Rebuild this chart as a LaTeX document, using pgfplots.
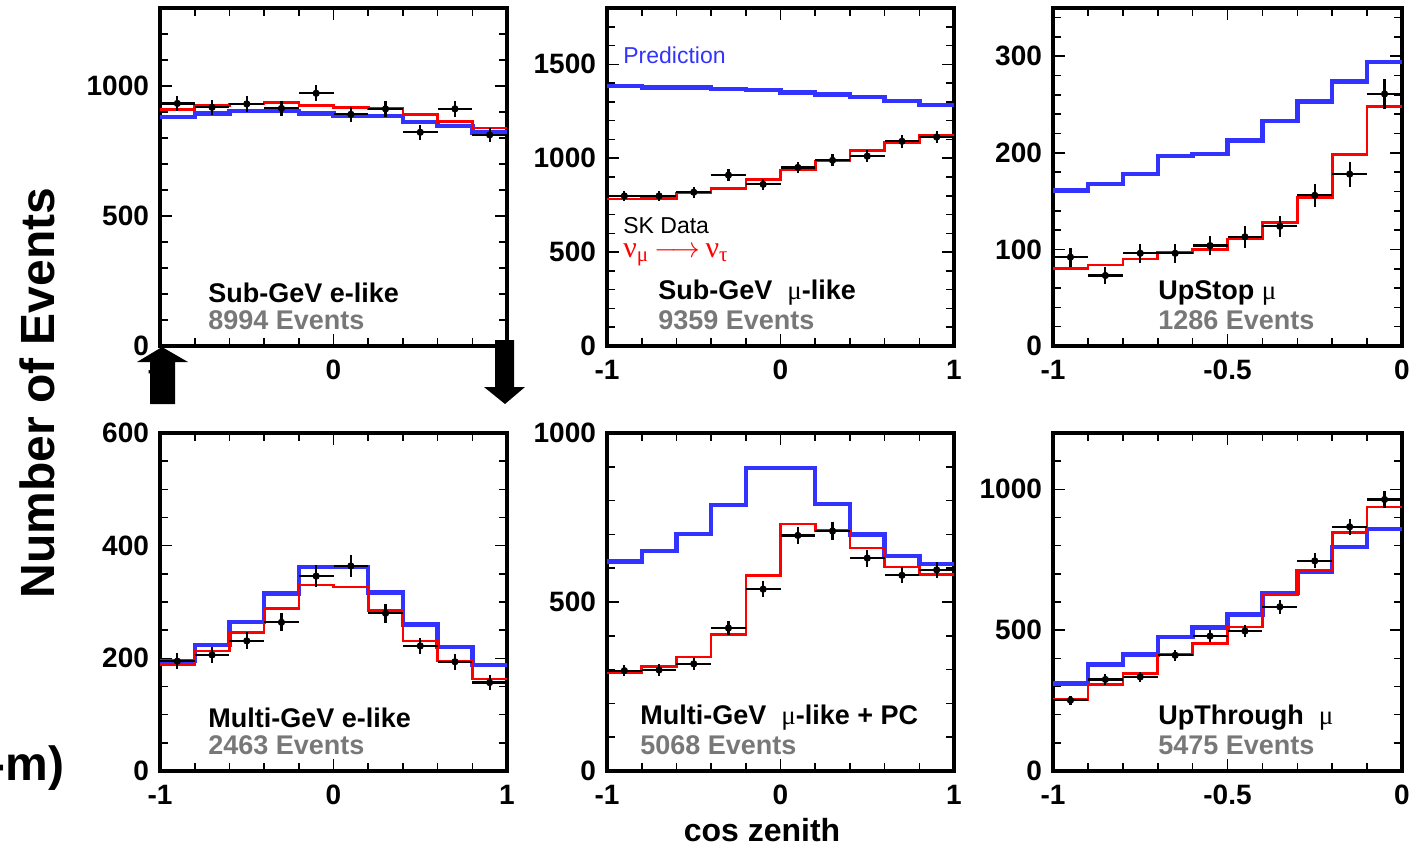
\documentclass[border=0pt]{standalone}
\usepackage{fontspec}
\setmainfont{Liberation Sans}
\newfontfamily\grk{Liberation Serif}
\usepackage{pgfplots}
\pgfplotsset{compat=1.18}
\definecolor{cPred}{RGB}{51,51,255}
\definecolor{cOsc}{RGB}{255,0,0}
\definecolor{cGrey}{RGB}{120,120,120}
\pgfplotsset{
  skpanel/.style={
    scale only axis, anchor=south west,
    axis line style={line width=1.6pt},
    tick style={line width=0.8pt, black},
    major tick length=6pt, minor tick length=4pt,
    tick align=inside,
    tick label style={font=\fontsize{14}{16}\selectfont\bfseries},
    xticklabel style={yshift=-3.5pt},
    yticklabel style={xshift=-2pt},
    /pgf/number format/assume math mode=true,
    /pgf/number format/1000 sep={},
  },
  pred/.style={cPred, line width=2.2pt, const plot, mark=none},
  osc/.style={cOsc, line width=1.3pt, const plot, mark=none},
  skdata/.style={black, only marks, mark=*, mark size=1.6pt,
    error bars/.cd, x dir=both, x explicit, y dir=both, y explicit,
    error mark=none, error bar style={line width=1.1pt}},
}
\newcommand{\ttl}{\fontsize{13.5}{15}\selectfont\bfseries}
\newcommand{\lgd}{\fontsize{11.5}{13}\selectfont}
\newcommand{\mum}{{\grk\mdseries μ}}

\begin{document}
\begin{tikzpicture}
% ---- top row ----
\begin{axis}[skpanel, at={(80pt,-173pt)}, width=173.5pt, height=169pt,
  xmin=-1, xmax=1, ymin=0, ymax=1300,
  xtick={-1,0,1}, minor xtick={-0.8,-0.6,-0.4,-0.2,0.2,0.4,0.6,0.8},
  ytick={0,500,1000}, minor ytick={100,200,300,400,600,700,800,900,1100,1200}]
\addplot[pred] coordinates {(-1,880) (-0.8,895) (-0.6,904) (-0.4,905) (-0.2,895) (0,884) (0.2,884) (0.4,862) (0.6,847) (0.8,821) (1,821)};
\addplot[osc] coordinates {(-1,910) (-0.8,926) (-0.6,931) (-0.4,936) (-0.2,926) (0,918) (0.2,914) (0.4,891) (0.6,863) (0.8,838) (1,838)};
\addplot[skdata] coordinates {(-0.9,933) +- (0.1,30) (-0.7,918) +- (0.1,30) (-0.5,931) +- (0.1,30) (-0.3,914) +- (0.1,30) (-0.1,972) +- (0.1,31) (0.1,891) +- (0.1,30) (0.3,912) +- (0.1,30) (0.5,822) +- (0.1,29) (0.7,912) +- (0.1,30) (0.9,812) +- (0.1,28)};
\end{axis}

\begin{axis}[skpanel, at={(303.5pt,-173pt)}, width=173.5pt, height=169pt,
  xmin=-1, xmax=1, ymin=0, ymax=1800,
  xtick={-1,0,1}, minor xtick={-0.8,-0.6,-0.4,-0.2,0.2,0.4,0.6,0.8},
  ytick={0,500,1000,1500}, minor ytick={100,200,300,400,600,700,800,900,1100,1200,1300,1400,1600,1700}]
\addplot[pred] coordinates {(-1,1386) (-0.8,1377) (-0.6,1377) (-0.4,1370) (-0.2,1364) (0,1349) (0.2,1340) (0.4,1326) (0.6,1306) (0.8,1283) (1,1283)};
\addplot[osc] coordinates {(-1,782) (-0.8,785) (-0.6,815) (-0.4,840) (-0.2,887) (0,937) (0.2,986) (0.4,1042) (0.6,1083) (0.8,1120) (1,1120)};
\addplot[skdata] coordinates {(-0.9,799) +- (0.1,28) (-0.7,799) +- (0.1,28) (-0.5,819) +- (0.1,29) (-0.3,910) +- (0.1,30) (-0.1,861) +- (0.1,29) (0.1,951) +- (0.1,31) (0.3,989) +- (0.1,31) (0.5,1011) +- (0.1,32) (0.7,1090) +- (0.1,33) (0.9,1113) +- (0.1,33)};
\end{axis}

\begin{axis}[skpanel, at={(526.5pt,-173pt)}, width=174.5pt, height=169pt,
  xmin=-1, xmax=0, ymin=0, ymax=350,
  xtick={-1,-0.5,0}, minor xtick={-0.9,-0.8,-0.7,-0.6,-0.4,-0.3,-0.2,-0.1},
  ytick={0,100,200,300}, minor ytick={20,40,60,80,120,140,160,180,220,240,260,280,320,340}]
\addplot[pred] coordinates {(-1,161) (-0.9,168) (-0.8,178) (-0.7,197) (-0.6,199) (-0.5,213) (-0.4,233) (-0.3,253) (-0.2,274) (-0.1,294) (0,294)};
\addplot[osc] coordinates {(-1,80) (-0.9,84) (-0.8,90) (-0.7,97) (-0.6,100) (-0.5,111) (-0.4,128) (-0.3,154) (-0.2,198) (-0.1,248) (0,248)};
\addplot[skdata] coordinates {(-0.95,92) +- (0.05,10) (-0.85,73) +- (0.05,9) (-0.75,96) +- (0.05,10) (-0.65,96) +- (0.05,10) (-0.55,104) +- (0.05,10) (-0.45,113) +- (0.05,11) (-0.35,124) +- (0.05,11) (-0.25,156) +- (0.05,12) (-0.15,178) +- (0.05,13) (-0.05,261) +- (0.05,16)};
\end{axis}

% ---- bottom row ----
\begin{axis}[skpanel, at={(80pt,-385.5pt)}, width=173.5pt, height=169pt,
  xmin=-1, xmax=1, ymin=0, ymax=600,
  xtick={-1,0,1}, minor xtick={-0.8,-0.6,-0.4,-0.2,0.2,0.4,0.6,0.8},
  ytick={0,200,400,600}, minor ytick={50,100,150,250,300,350,450,500,550}]
\addplot[pred] coordinates {(-1,195) (-0.8,224) (-0.6,264) (-0.4,315) (-0.2,362) (0,362) (0.2,317) (0.4,260) (0.6,220) (0.8,188) (1,188)};
\addplot[osc] coordinates {(-1,189) (-0.8,213) (-0.6,246) (-0.4,289) (-0.2,330) (0,327) (0.2,285) (0.4,231) (0.6,195) (0.8,163) (1,163)};
\addplot[skdata] coordinates {(-0.9,195) +- (0.1,14) (-0.7,206) +- (0.1,14) (-0.5,231) +- (0.1,15) (-0.3,264) +- (0.1,16) (-0.1,346) +- (0.1,19) (0.1,364) +- (0.1,19) (0.3,280) +- (0.1,17) (0.5,222) +- (0.1,15) (0.7,194) +- (0.1,14) (0.9,157) +- (0.1,13)};
\end{axis}

\begin{axis}[skpanel, at={(303.5pt,-385.5pt)}, width=173.5pt, height=169pt,
  xmin=-1, xmax=1, ymin=0, ymax=1000,
  xtick={-1,0,1}, minor xtick={-0.8,-0.6,-0.4,-0.2,0.2,0.4,0.6,0.8},
  ytick={0,500,1000}, minor ytick={100,200,300,400,600,700,800,900}]
\addplot[pred] coordinates {(-1,620) (-0.8,651) (-0.6,701) (-0.4,787) (-0.2,896) (0,896) (0.2,790) (0.4,700) (0.6,636) (0.8,612) (1,612)};
\addplot[osc] coordinates {(-1,292) (-0.8,309) (-0.6,337) (-0.4,404) (-0.2,579) (0,731) (0.2,711) (0.4,660) (0.6,604) (0.8,581) (1,581)};
\addplot[skdata] coordinates {(-0.9,297) +- (0.1,17) (-0.7,299) +- (0.1,17) (-0.5,317) +- (0.1,18) (-0.3,423) +- (0.1,21) (-0.1,538) +- (0.1,23) (0.1,697) +- (0.1,26) (0.3,710) +- (0.1,27) (0.5,630) +- (0.1,25) (0.7,579) +- (0.1,24) (0.9,595) +- (0.1,24)};
\end{axis}

\begin{axis}[skpanel, at={(526.5pt,-385.5pt)}, width=174.5pt, height=169pt,
  xmin=-1, xmax=0, ymin=0, ymax=1200,
  xtick={-1,-0.5,0}, minor xtick={-0.9,-0.8,-0.7,-0.6,-0.4,-0.3,-0.2,-0.1},
  ytick={0,500,1000}, minor ytick={100,200,300,400,600,700,800,900,1100}]
\addplot[pred] coordinates {(-1,310) (-0.9,378) (-0.8,414) (-0.7,476) (-0.6,509) (-0.5,555) (-0.4,632) (-0.3,708) (-0.2,796) (-0.1,860) (0,860)};
\addplot[osc] coordinates {(-1,254) (-0.9,308) (-0.8,347) (-0.7,414) (-0.6,452) (-0.5,511) (-0.4,627) (-0.3,714) (-0.2,846) (-0.1,937) (0,937)};
\addplot[skdata] coordinates {(-0.95,251) +- (0.05,16) (-0.85,325) +- (0.05,18) (-0.75,334) +- (0.05,18) (-0.65,411) +- (0.05,20) (-0.55,479) +- (0.05,22) (-0.45,497) +- (0.05,22) (-0.35,583) +- (0.05,24) (-0.25,746) +- (0.05,27) (-0.15,867) +- (0.05,29) (-0.05,964) +- (0.05,31)};
\end{axis}

% ---- panel texts ----
\begin{scope}[every node/.style={anchor=west, inner sep=0pt}]
\node[font=\ttl] at (104pt,-146.5pt) {Sub-GeV e-like};
\node[font=\ttl, text=cGrey] at (104pt,-160pt) {8994 Events};
\node[font=\lgd, text=cPred] at (311.5pt,-27.5pt) {Prediction};
\node[font=\lgd] at (311.5pt,-113pt) {SK Data};
\node[font=\fontsize{15}{17}\selectfont\grk, text=cOsc] at (311.5pt,-127.5pt) {ν\textsubscript{μ}\,$\longrightarrow$\,ν\textsubscript{τ}};
\node[font=\ttl] at (329pt,-146.5pt) {Sub-GeV\ \ \mum-like};
\node[font=\ttl, text=cGrey] at (329pt,-160pt) {9359 Events};
\node[font=\ttl] at (579pt,-146.5pt) {UpStop \mum};
\node[font=\ttl, text=cGrey] at (579pt,-160pt) {1286 Events};
\node[font=\ttl] at (104pt,-359pt) {Multi-GeV e-like};
\node[font=\ttl, text=cGrey] at (104pt,-372.5pt) {2463 Events};
\node[font=\ttl] at (320pt,-359pt) {Multi-GeV\ \ \mum-like + PC};
\node[font=\ttl, text=cGrey] at (320pt,-372.5pt) {5068 Events};
\node[font=\ttl] at (579pt,-359pt) {UpThrough\ \ \mum};
\node[font=\ttl, text=cGrey] at (579pt,-372.5pt) {5475 Events};
\end{scope}

% ---- outer labels ----
\node[rotate=90, font=\fontsize{24}{28}\selectfont\bfseries] at (18.5pt,-196.5pt) {Number of Events};
\node[font=\fontsize{16}{19}\selectfont\bfseries] at (381pt,-415pt) {cos zenith};
\node[anchor=east, inner sep=0pt, font=\fontsize{24}{28}\selectfont\bfseries] at (32.5pt,-384pt) {-m)};

% ---- arrows under the first panel ----
\fill[black] (75pt,-202pt) -- (75pt,-181pt) -- (68.5pt,-181pt) -- (81pt,-173.5pt) -- (94pt,-181pt) -- (87.5pt,-181pt) -- (87.5pt,-202pt) -- cycle;
\fill[black] (247.5pt,-170pt) -- (257pt,-170pt) -- (257pt,-193.5pt) -- (262.5pt,-193.5pt) -- (252.5pt,-202pt) -- (242pt,-193.5pt) -- (247.5pt,-193.5pt) -- cycle;

\pgfresetboundingbox
\path[use as bounding box] (0pt,0pt) rectangle (709.5pt,-423pt);
\end{tikzpicture}
\end{document}
